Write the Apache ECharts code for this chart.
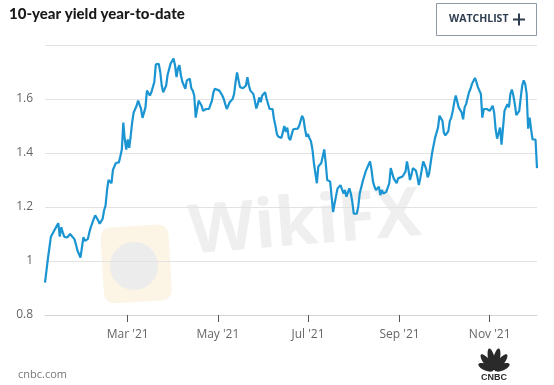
<!DOCTYPE html>
<html>
<head>
<meta charset="utf-8">
<script src="https://cdn.jsdelivr.net/npm/echarts@6/dist/echarts.min.js"></script>
<style>
html,body{margin:0;padding:0;background:#fff;}
#chart{width:554px;height:385px;}
</style>
</head>
<body>
<div id="chart"></div>
<script>
// ---- Data (10-year yield, 2021) ----
const dates = [
'2021-01-04','2021-01-06','2021-01-07','2021-01-08','2021-01-10','2021-01-12','2021-01-13','2021-01-14','2021-01-15','2021-01-16','2021-01-17','2021-01-19','2021-01-20','2021-01-21','2021-01-22','2021-01-24','2021-01-25','2021-01-26','2021-01-27','2021-01-28','2021-01-29','2021-01-30','2021-01-31',
'2021-02-01','2021-02-02','2021-02-03','2021-02-04','2021-02-06','2021-02-07','2021-02-08','2021-02-09','2021-02-10','2021-02-12','2021-02-13','2021-02-14','2021-02-15','2021-02-16','2021-02-17','2021-02-18','2021-02-19','2021-02-20','2021-02-21','2021-02-22','2021-02-23','2021-02-24','2021-02-25','2021-02-26','2021-02-27','2021-02-28',
'2021-03-01','2021-03-02','2021-03-03','2021-03-04','2021-03-05','2021-03-06','2021-03-07','2021-03-08','2021-03-10','2021-03-11','2021-03-12','2021-03-13','2021-03-14','2021-03-15','2021-03-16','2021-03-17','2021-03-18','2021-03-19','2021-03-20','2021-03-21','2021-03-22','2021-03-23','2021-03-24','2021-03-25','2021-03-26','2021-03-27','2021-03-28','2021-03-30',
'2021-04-01','2021-04-02','2021-04-03','2021-04-04','2021-04-05','2021-04-06','2021-04-07','2021-04-08','2021-04-09','2021-04-10','2021-04-11','2021-04-12','2021-04-13','2021-04-14','2021-04-15','2021-04-16','2021-04-17','2021-04-18','2021-04-19','2021-04-20','2021-04-21','2021-04-23','2021-04-24','2021-04-25','2021-04-26','2021-04-27','2021-04-28','2021-04-29','2021-04-30',
'2021-05-02','2021-05-03','2021-05-04','2021-05-05','2021-05-06','2021-05-07','2021-05-08','2021-05-09','2021-05-11','2021-05-12','2021-05-13','2021-05-14','2021-05-15','2021-05-16','2021-05-17','2021-05-18','2021-05-19','2021-05-20','2021-05-21','2021-05-22','2021-05-23','2021-05-24','2021-05-25','2021-05-26','2021-05-27','2021-05-28','2021-05-29','2021-05-30','2021-05-31',
'2021-06-01','2021-06-02','2021-06-03','2021-06-04','2021-06-05','2021-06-06','2021-06-07','2021-06-08','2021-06-09','2021-06-10','2021-06-11','2021-06-12','2021-06-13','2021-06-15','2021-06-16','2021-06-17','2021-06-18','2021-06-19','2021-06-20','2021-06-21','2021-06-22','2021-06-24','2021-06-25','2021-06-26','2021-06-27','2021-06-28','2021-06-29','2021-06-30',
'2021-07-01','2021-07-02','2021-07-03','2021-07-04','2021-07-05','2021-07-06','2021-07-07','2021-07-08','2021-07-09','2021-07-10','2021-07-12','2021-07-13','2021-07-14','2021-07-15','2021-07-16','2021-07-17','2021-07-18','2021-07-19','2021-07-21','2021-07-22','2021-07-23','2021-07-24','2021-07-25','2021-07-26','2021-07-27','2021-07-29','2021-07-30','2021-07-31',
'2021-08-01','2021-08-02','2021-08-03','2021-08-04','2021-08-05','2021-08-07','2021-08-08','2021-08-09','2021-08-10','2021-08-11','2021-08-12','2021-08-13','2021-08-14','2021-08-15','2021-08-16','2021-08-17','2021-08-18','2021-08-19','2021-08-20','2021-08-21','2021-08-22','2021-08-23','2021-08-25','2021-08-26','2021-08-27','2021-08-28','2021-08-29','2021-08-30','2021-08-31',
'2021-09-01','2021-09-03','2021-09-04','2021-09-05','2021-09-06','2021-09-07','2021-09-08','2021-09-09','2021-09-10','2021-09-12','2021-09-13','2021-09-14','2021-09-15','2021-09-16','2021-09-17','2021-09-18','2021-09-19','2021-09-20','2021-09-21','2021-09-22','2021-09-23','2021-09-25','2021-09-26','2021-09-27','2021-09-28','2021-09-29','2021-09-30',
'2021-10-01','2021-10-02','2021-10-04','2021-10-05','2021-10-06','2021-10-07','2021-10-08','2021-10-09','2021-10-10','2021-10-11','2021-10-13','2021-10-14','2021-10-15','2021-10-16','2021-10-17','2021-10-18','2021-10-19','2021-10-20','2021-10-22','2021-10-23','2021-10-24','2021-10-25','2021-10-26','2021-10-27','2021-10-28','2021-10-29','2021-10-30','2021-10-31',
'2021-11-01','2021-11-03','2021-11-04','2021-11-05','2021-11-06','2021-11-07','2021-11-08','2021-11-09','2021-11-11','2021-11-12','2021-11-13','2021-11-14','2021-11-15','2021-11-16','2021-11-17','2021-11-18','2021-11-19','2021-11-21','2021-11-22','2021-11-23','2021-11-24','2021-11-25','2021-11-26','2021-11-27','2021-11-28','2021-11-29','2021-11-30',
'2021-12-01','2021-12-02','2021-12-03'
];
const yields = [
0.92,1.01,1.05,1.09,1.11,1.13,1.14,1.09,1.125,1.106,1.09,1.087,1.09,1.10,1.094,1.08,1.06,1.038,1.031,1.013,1.05,1.088,1.075,
1.07,1.081,1.106,1.125,1.156,1.169,1.163,1.15,1.138,1.156,1.188,1.206,1.263,1.30,1.298,1.288,1.338,1.344,1.363,1.369,1.365,1.388,1.413,1.513,1.45,1.413,
1.45,1.419,1.463,1.513,1.55,1.556,1.575,1.594,1.563,1.53,1.525,1.569,1.631,1.625,1.613,1.625,1.644,1.663,1.728,1.735,1.73,1.70,1.65,1.625,1.619,1.65,1.69,1.731,
1.75,1.725,1.681,1.713,1.725,1.688,1.663,1.656,1.638,1.669,1.669,1.675,1.64,1.631,1.613,1.531,1.563,1.594,1.60,1.575,1.556,1.563,1.56,1.563,1.565,1.594,1.625,1.638,1.644,
1.631,1.625,1.613,1.60,1.581,1.563,1.575,1.588,1.60,1.619,1.663,1.698,1.669,1.644,1.638,1.64,1.644,1.65,1.681,1.65,1.631,1.631,1.619,1.594,1.565,1.581,1.606,1.588,1.613,
1.619,1.625,1.60,1.606,1.563,1.569,1.563,1.525,1.50,1.469,1.46,1.46,1.456,1.50,1.478,1.494,1.456,1.448,1.469,1.488,1.481,1.49,1.50,1.506,1.538,1.525,1.488,1.46,
1.47,1.455,1.444,1.413,1.363,1.325,1.288,1.35,1.356,1.363,1.413,1.363,1.30,1.30,1.294,1.238,1.181,1.213,1.269,1.275,1.281,1.275,1.25,1.263,1.238,1.269,1.25,1.219,
1.175,1.169,1.175,1.20,1.25,1.294,1.313,1.331,1.344,1.35,1.369,1.338,1.294,1.275,1.263,1.256,1.275,1.244,1.263,1.25,1.252,1.256,1.288,1.344,1.338,1.306,1.30,1.288,1.306,
1.30,1.313,1.319,1.331,1.369,1.338,1.30,1.319,1.344,1.335,1.313,1.281,1.306,1.338,1.369,1.356,1.34,1.31,1.325,1.331,1.40,1.456,1.463,1.494,1.538,1.54,1.519,
1.475,1.465,1.481,1.519,1.531,1.556,1.588,1.613,1.606,1.569,1.55,1.525,1.569,1.581,1.588,1.625,1.638,1.656,1.678,1.663,1.644,1.638,1.619,1.531,1.563,1.556,1.563,1.569,
1.556,1.575,1.55,1.488,1.453,1.456,1.494,1.431,1.556,1.569,1.581,1.569,1.619,1.635,1.613,1.581,1.54,1.556,1.606,1.65,1.669,1.656,1.62,1.49,1.531,1.488,1.45,
1.444,1.45,1.344
];
const tickDates = ['2021-03-01','2021-05-01','2021-07-01','2021-09-01','2021-11-01'];
const tickLabels = ["Mar '21","May '21","Jul '21","Sep '21","Nov '21"];
const yMin = 0.8, yMax = 1.8, yStep = 0.2;

const chart = echarts.init(document.getElementById('chart'), null, {renderer:'canvas'});
function ts(s){ const p = s.split('-').map(Number); return Date.UTC(p[0], p[1]-1, p[2]); }
const tickTs = tickDates.map(ts);
const seriesData = dates.map((d,i)=>[ts(d), yields[i]]);

const ink = '#2a2a2a';
const feathers = [[-66,8],[-38,10],[-12,11],[12,11],[38,10],[66,8]].map(f => ({
  type:'ellipse', x:494, y:371, rotation: -f[0]*Math.PI/180,
  shape:{cx:0, cy:-f[1]-1, rx:3.3, ry:f[1]}, style:{fill:ink}, z:10
}));

chart.setOption({
  animation:false,
  textStyle:{fontFamily:'Lato, "Open Sans", sans-serif'},
  grid:{left:45, right:17, top:45, bottom:70},
  xAxis:{
    type:'value',
    min:ts(dates[0]), max:ts(dates[dates.length-1]),
    axisLine:{show:true, lineStyle:{color:'#d6d6d6', width:1}},
    axisTick:{show:true, length:7, lineStyle:{color:'#555', width:1}, customValues:tickTs},
    axisLabel:{
      customValues:tickTs, color:'#666', fontSize:12, margin:14,
      fontFamily:'"Open Sans", Lato, sans-serif',
      formatter:function(v){ const i = tickTs.indexOf(+v); return i>=0 ? tickLabels[i] : ''; }
    },
    splitLine:{show:false}
  },
  yAxis:{
    type:'value', min:yMin, max:yMax, interval:yStep,
    axisLine:{show:false}, axisTick:{show:false},
    axisLabel:{color:'#666', fontSize:12, margin:12, showMaxLabel:false,
      fontFamily:'"Open Sans", Lato, sans-serif'},
    splitLine:{lineStyle:{color:'#e2e2e2', width:1}}
  },
  graphic:[
    {type:'rect', x:100, y:228, shape:{width:68, height:76, r:10}, rotation:0.06, style:{fill:'#fcf5e6'}, z:-1},
    {type:'circle', shape:{cx:134, cy:266, r:24}, style:{fill:'#ececec'}, z:-1},
    {type:'text', x:192, y:268, rotation:0.08, style:{text:'WikiFX', font:'bold 68px "Open Sans", sans-serif', fill:'#efefef', textVerticalAlign:'bottom'}, z:-1},
    {type:'text', x:9, y:7, style:{text:'10-year yield year-to-date', font:'900 15px Lato, sans-serif', fill:'#1a1a1a'}},
    {type:'rect', shape:{x:436.5, y:3.5, width:100, height:32}, style:{fill:'#fff', stroke:'#8c99a6', lineWidth:1}},
    {type:'text', x:449, y:19.5, style:{text:'WATCHLIST', font:'bold 10.5px "Open Sans", sans-serif', fill:'#2e3d4f', textVerticalAlign:'middle'}},
    {type:'line', shape:{x1:513, y1:19.5, x2:525, y2:19.5}, style:{stroke:'#2e3d4f', lineWidth:2}},
    {type:'line', shape:{x1:519, y1:13.5, x2:519, y2:25.5}, style:{stroke:'#2e3d4f', lineWidth:2}},
    {type:'text', x:18, y:375, style:{text:'cnbc.com', font:'11px "Open Sans", sans-serif', fill:'#777', textVerticalAlign:'middle'}},
    ...feathers,
    {type:'text', x:494, y:378, style:{text:'CNBC', font:'900 9px Arial, sans-serif', fill:ink, textAlign:'center', textVerticalAlign:'middle'}, z:10}
  ],
  series:[{
    type:'line', data:seriesData, showSymbol:false, symbol:'none',
    lineStyle:{color:'#1a95d2', width:2.2}, z:5
  }]
});
</script>
</body>
</html>
